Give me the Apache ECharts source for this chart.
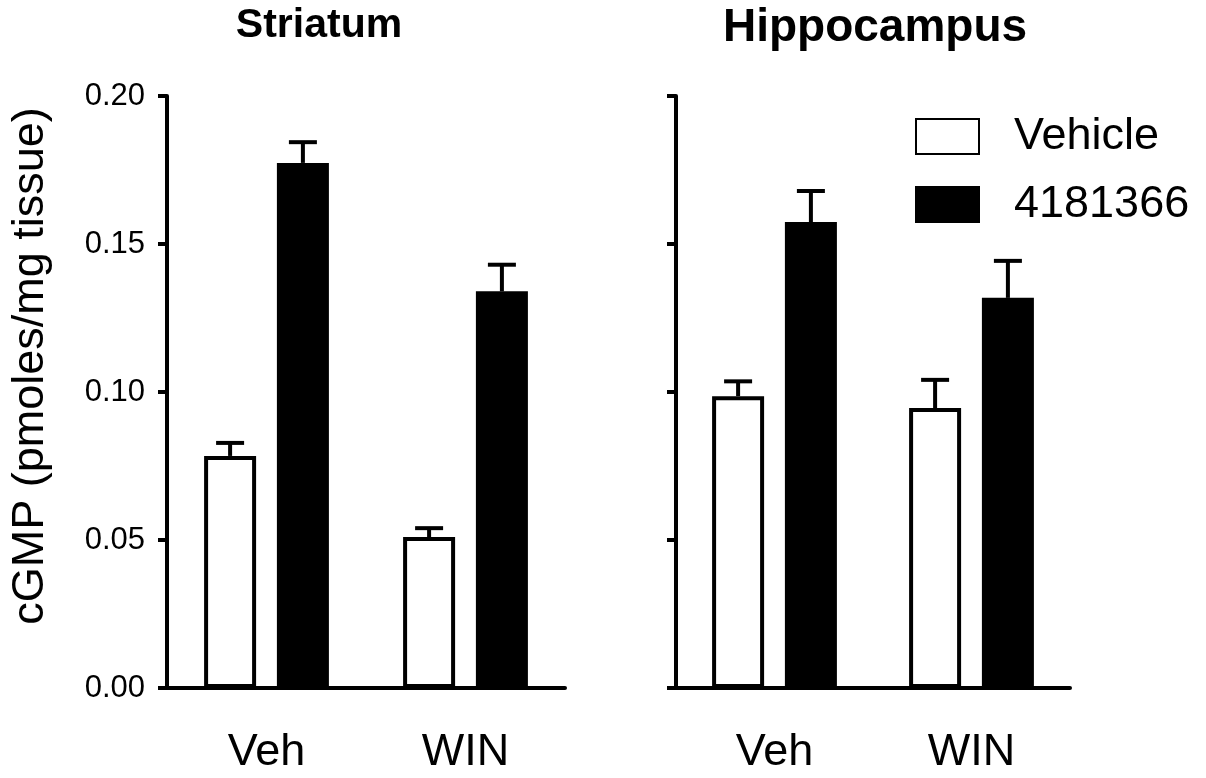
<!DOCTYPE html>
<html>
<head>
<meta charset="utf-8">
<script src="https://cdn.jsdelivr.net/npm/echarts@6/dist/echarts.min.js"></script>
<style>
  html, body { margin: 0; padding: 0; background: #fff; }
  #chart { width: 1206px; height: 778px; }
</style>
</head>
<body>
<div id="chart"></div>
<script>
const groups = ["Veh", "WIN"];
const yTicks = [0, 0.05, 0.1, 0.15, 0.2];

// Striatum
const striatumVehicle = [0.0784, 0.051];
const striatumVehicleErr = [0.0044, 0.003];
const striatumDrug = [0.1774, 0.134];
const striatumDrugErr = [0.007, 0.009];

// Hippocampus
const hippoVehicle = [0.0986, 0.0946];
const hippoVehicleErr = [0.005, 0.0095];
const hippoDrug = [0.1574, 0.1318];
const hippoDrugErr = [0.0105, 0.0125];

const FONT = "'Liberation Sans', Arial, sans-serif";
const BAR_W = 52;
const BAR_GAP = 0.4;
const BAR_OFFSET = (BAR_W + BAR_W * BAR_GAP) / 2;

function errorRenderer(params, api) {
  const cat = api.value(0);
  const val = api.value(1);
  const err = api.value(2);
  const side = api.value(3);
  const base = api.coord([cat, val]);
  const top = api.coord([cat, val + err]);
  const x = base[0] + side * BAR_OFFSET;
  const style = { stroke: "#000", lineWidth: 4 };
  return {
    type: "group",
    children: [
      { type: "line", shape: { x1: x, y1: base[1], x2: x, y2: top[1] }, style: style },
      { type: "line", shape: { x1: x - 14, y1: top[1], x2: x + 14, y2: top[1] }, style: style }
    ]
  };
}

function errData(vals, errs, side) {
  return vals.map((v, i) => [i, v, errs[i], side]);
}

function xAxisFor(gridIndex) {
  return {
    type: "category",
    gridIndex: gridIndex,
    data: groups,
    axisLine: { lineStyle: { color: "#000", width: 4 } },
    axisTick: { alignWithLabel: true, length: 9, lineStyle: { color: "#000", width: 4 } },
    axisLabel: { color: "#000", fontSize: 45, fontFamily: FONT, margin: 42 },
    splitLine: { show: false }
  };
}

function yAxisFor(gridIndex, showLabels) {
  return {
    type: "value",
    gridIndex: gridIndex,
    min: yTicks[0],
    max: yTicks[yTicks.length - 1],
    interval: yTicks[1] - yTicks[0],
    name: showLabels ? "cGMP (pmoles/mg tissue)" : "",
    nameLocation: "middle",
    nameRotate: 90,
    nameGap: 114,
    nameTextStyle: { color: "#000", fontSize: 45, fontFamily: FONT, padding: [0, 0, 0, 52] },
    axisLine: { show: true, lineStyle: { color: "#000", width: 4 } },
    axisTick: { show: true, length: 9, lineStyle: { color: "#000", width: 4 } },
    axisLabel: {
      show: showLabels,
      color: "#000",
      fontSize: 31,
      fontFamily: FONT,
      margin: 22,
      formatter: (v) => v.toFixed(2)
    },
    splitLine: { show: false }
  };
}

const whiteStyle = { color: "#fff", borderColor: "#000", borderWidth: 4 };
const blackStyle = { color: "#000", borderColor: "#000", borderWidth: 4 };

function barSeries(name, data, idx, style) {
  return {
    name: name,
    type: "bar",
    xAxisIndex: idx,
    yAxisIndex: idx,
    data: data,
    barWidth: BAR_W,
    barGap: (BAR_GAP * 100) + "%",
    itemStyle: style,
    silent: true
  };
}

function errSeries(data, idx) {
  return {
    type: "custom",
    xAxisIndex: idx,
    yAxisIndex: idx,
    renderItem: errorRenderer,
    encode: { x: 0, y: 1 },
    data: data,
    z: 3,
    silent: true
  };
}

const chart = echarts.init(document.getElementById("chart"));
chart.setOption({
  animation: false,
  backgroundColor: "#fff",
  title: [
    {
      text: "Striatum", left: 314, top: 0, textAlign: "center",
      textStyle: { color: "#000", fontSize: 41, fontWeight: "bold", fontFamily: FONT }
    },
    {
      text: "Hippocampus", left: 870, top: 0, textAlign: "center",
      textStyle: { color: "#000", fontSize: 46, fontWeight: "bold", fontFamily: FONT }
    }
  ],
  legend: {
    data: ["Vehicle", "4181366"],
    orient: "vertical",
    left: 915,
    top: 114,
    padding: 0,
    icon: "rect",
    itemWidth: 63,
    itemHeight: 35,
    itemGap: 23,
    selectedMode: false,
    textStyle: { color: "#000", fontSize: 45, fontFamily: FONT, lineHeight: 45, padding: [0, 0, 0, 30] }
  },
  grid: [
    { left: 167, top: 96, width: 398, height: 592 },
    { left: 676, top: 96, width: 394, height: 592 }
  ],
  xAxis: [xAxisFor(0), xAxisFor(1)],
  yAxis: [yAxisFor(0, true), yAxisFor(1, false)],
  series: [
    barSeries("Vehicle", striatumVehicle, 0, whiteStyle),
    barSeries("4181366", striatumDrug, 0, blackStyle),
    barSeries("Vehicle", hippoVehicle, 1, whiteStyle),
    barSeries("4181366", hippoDrug, 1, blackStyle),
    errSeries(errData(striatumVehicle, striatumVehicleErr, -1), 0),
    errSeries(errData(striatumDrug, striatumDrugErr, 1), 0),
    errSeries(errData(hippoVehicle, hippoVehicleErr, -1), 1),
    errSeries(errData(hippoDrug, hippoDrugErr, 1), 1)
  ]
});
</script>
</body>
</html>
